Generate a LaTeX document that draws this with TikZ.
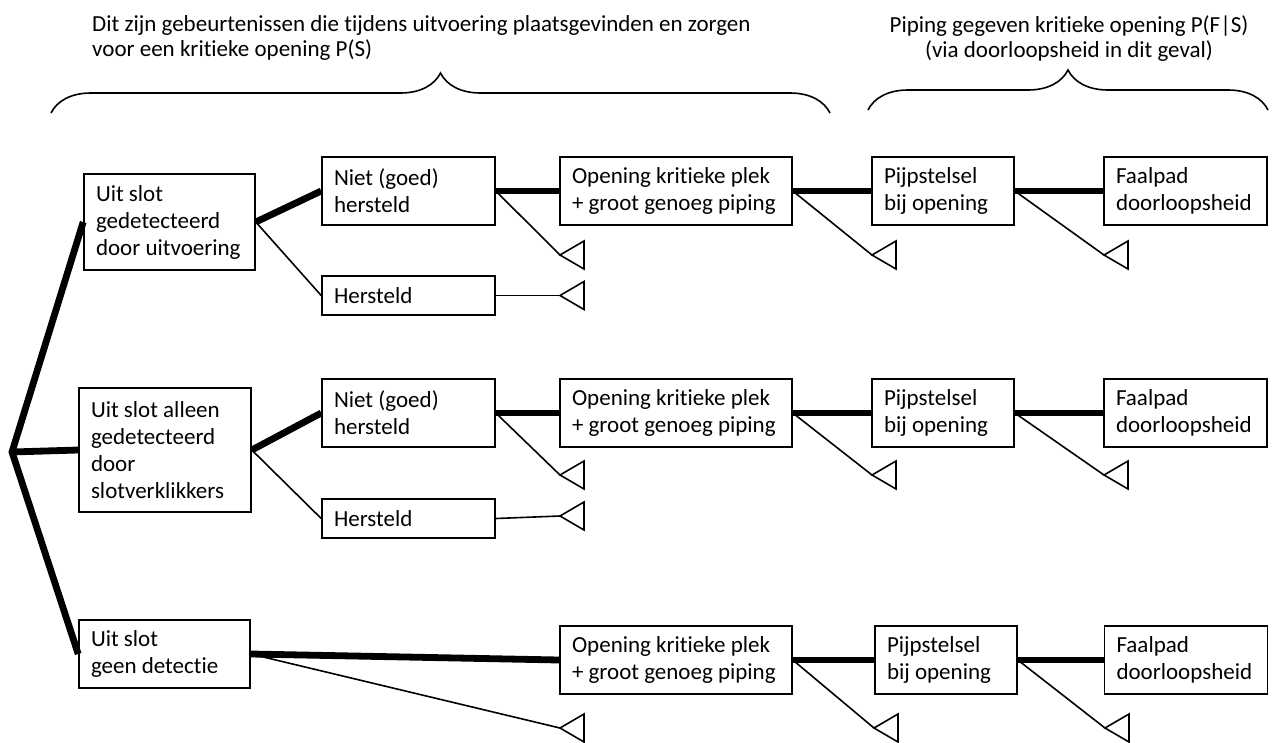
\documentclass[tikz,border=0pt]{standalone}
\usepackage{fontspec}
\setmainfont{Carlito}[Ligatures=NoCommon]
\usepackage{tikz}
\usetikzlibrary{decorations.pathreplacing}
\newcommand{\eind}[1]{\draw[dun] (#1) -- ++(24,-14) -- ++(0,28) -- cycle;}

\begin{document}
\begin{tikzpicture}[x=1pt,y=-1pt]

\tikzstyle{blok}=[draw, line width=1.6pt, inner xsep=12pt, inner ysep=0pt, align=flush left, font=\fontsize{23}{27}\selectfont]
\tikzstyle{kop}=[inner sep=0pt, font=\fontsize{23}{25.5}\selectfont]
\tikzstyle{dik}=[line width=6.8pt]
\tikzstyle{dun}=[line width=1.6pt]
\tikzstyle{accolade}=[line width=1.6pt, decorate, decoration={brace, amplitude=40pt}]

\useasboundingbox (0,0) rectangle (1272,742);

% kopjes en accolades
\node[kop, anchor=north west, align=flush left] at (92,15) (kopS) {Dit zijn gebeurtenissen die tijdens uitvoering plaatsgevinden en zorgen\\voor een kritieke opening P(S)};
\node[kop, anchor=north, align=center] at (1069,15) (kopFS) {Piping gegeven kritieke opening P(F|S)\\(via doorloopsheid in dit geval)};
\draw[accolade] (51,113) to (830,113);
\draw[accolade] (868,110) to (1268,110);

% oorzaken
\coordinate (wortel) at (12,452);
\node[blok, text width=147pt, minimum height=96pt] at (169.5,222) (A1) {Uit slot\\gedetecteerd\\door uitvoering};
\node[blok, text width=148pt, minimum height=124pt] at (165,450) (A2) {Uit slot alleen\\gedetecteerd\\door\\slotverklikkers};
\node[blok, text width=147pt, minimum height=68pt] at (164.5,654) (A3) {Uit slot\\geen detectie};

% rij 1
\node[blok, text width=149pt, minimum height=68pt] at (408.5,191) (B1) {Niet (goed)\\hersteld};
\node[blok, text width=149pt, minimum height=39pt] at (408.5,295.5) (H1) {Hersteld};
\node[blok, text width=208pt, minimum height=68pt] at (676,191) (C1) {Opening kritieke plek\\+ groot genoeg piping};
\node[blok, text width=118pt, minimum height=68pt] at (943,191) (D1) {Pijpstelsel\\bij opening};
\node[blok, text width=139pt, minimum height=68pt] at (1185.5,191) (E1) {Faalpad\\doorloopsheid};

% rij 2
\node[blok, text width=149pt, minimum height=68pt] at (408.5,413) (B2) {Niet (goed)\\hersteld};
\node[blok, text width=149pt, minimum height=39pt] at (408.5,518.5) (H2) {Hersteld};
\node[blok, text width=208pt, minimum height=68pt] at (676,413) (C2) {Opening kritieke plek\\+ groot genoeg piping};
\node[blok, text width=118pt, minimum height=68pt] at (943,413) (D2) {Pijpstelsel\\bij opening};
\node[blok, text width=139pt, minimum height=68pt] at (1185.5,413) (E2) {Faalpad\\doorloopsheid};

% rij 3
\node[blok, text width=208pt, minimum height=68pt] at (676,660) (C3) {Opening kritieke plek\\+ groot genoeg piping};
\node[blok, text width=118pt, minimum height=68pt] at (946,660) (D3) {Pijpstelsel\\bij opening};
\node[blok, text width=139pt, minimum height=68pt] at (1186,660) (E3) {Faalpad\\doorloopsheid};

% eindpunten
\coordinate (t1b) at (560,255);
\coordinate (t1h) at (560,295.5);
\coordinate (t1c) at (872,255);
\coordinate (t1d) at (1104,255);
\coordinate (t2b) at (560,475);
\coordinate (t2h) at (560,516);
\coordinate (t2c) at (872,475);
\coordinate (t2d) at (1104,475);
\coordinate (t3a) at (560,728);
\coordinate (t3c) at (874,728);
\coordinate (t3d) at (1105,728);

% takken
\draw[dik] (A1.west) to (wortel) to (A3.west);
\draw[dik] (wortel) to (A2.west);

\draw[dik] (A1.east) to (B1.west);
\draw[dun] (A1.east) to (H1.west);
\draw[dik] (B1) to (C1);
\draw[dik] (C1) to (D1);
\draw[dik] (D1) to (E1);
\draw[dun] (B1.east) to (t1b);
\draw[dun] (H1.east) to (t1h);
\draw[dun] (C1.east) to (t1c);
\draw[dun] (D1.east) to (t1d);

\draw[dik] (A2.east) to (B2.west);
\draw[dun] (A2.east) to (H2.west);
\draw[dik] (B2) to (C2);
\draw[dik] (C2) to (D2);
\draw[dik] (D2) to (E2);
\draw[dun] (B2.east) to (t2b);
\draw[dun] (H2.east) to (t2h);
\draw[dun] (C2.east) to (t2c);
\draw[dun] (D2.east) to (t2d);

\draw[dik] (A3.east) to (C3.west);
\draw[dik] (C3) to (D3);
\draw[dik] (D3) to (E3);
\draw[dun] (A3.east) to (t3a);
\draw[dun] (C3.east) to (t3c);
\draw[dun] (D3.east) to (t3d);

\eind{t1b} \eind{t1h} \eind{t1c} \eind{t1d}
\eind{t2b} \eind{t2h} \eind{t2c} \eind{t2d}
\eind{t3a} \eind{t3c} \eind{t3d}

\end{tikzpicture}
\end{document}
